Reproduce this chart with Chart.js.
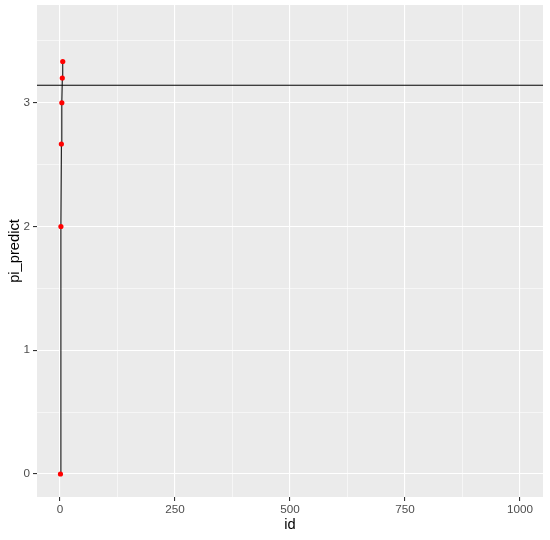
<!DOCTYPE html>
<html><head><meta charset="utf-8">
<script src="https://cdn.jsdelivr.net/npm/chart.js@4"></script>
<style>html,body{margin:0;padding:0;background:#fff}#wrap{width:550px;height:540px}</style>
</head><body><div id="wrap"><canvas id="c" width="550" height="540"></canvas></div>
<script>
const ids = [1, 2, 3, 4, 5, 6];
const piPredict = [0, 2, 2.6667, 3, 3.2, 3.3333];
const piValue = Math.PI;
const xLimits = [-50, 1050];
const yLimits = [-0.186, 3.79];
const xMajorTicks = [0, 250, 500, 750, 1000];
const yMajorTicks = [0, 1, 2, 3];

const pts = ids.map((id, i) => ({x: id, y: piPredict[i]}));
const isMajorX = v => xMajorTicks.includes(v);
const isMajorY = v => yMajorTicks.includes(Math.round(v * 1000) / 1000);

new Chart(document.getElementById('c'), {
  type: 'scatter',
  data: {
    datasets: [
      {data: pts, showLine: true, borderColor: '#000', borderWidth: 1, pointRadius: 0, order: 3},
      {data: pts, showLine: false, pointRadius: 2.6, pointBackgroundColor: '#FF0000', pointBorderColor: '#FF0000', pointBorderWidth: 0, order: 2},
      {data: [{x: xLimits[0], y: piValue}, {x: xLimits[1], y: piValue}], showLine: true, borderColor: '#000', borderWidth: 1, pointRadius: 0, order: 1}
    ]
  },
  options: {
    responsive: false, animation: false, devicePixelRatio: 1,
    layout: {padding: {top: 5, right: 7, left: 0, bottom: 0}},
    plugins: {legend: {display: false}, tooltip: {enabled: false}},
    scales: {
      x: {
        type: 'linear', min: xLimits[0], max: xLimits[1],
        afterFit: s => { s.height = 43; s.paddingLeft = 0; s.paddingRight = 0; },
        border: {display: false},
        ticks: {stepSize: 125, includeBounds: false, autoSkip: false, maxRotation: 0, padding: 2,
          color: '#4D4D4D', font: {family: 'Liberation Sans', size: 11.7},
          callback: v => isMajorX(v) ? String(v) : ''},
        grid: {color: '#FFFFFF', lineWidth: c => isMajorX(c.tick.value) ? 1.1 : 0.55,
          tickLength: 4, tickColor: c => isMajorX(c.tick.value) ? '#333333' : 'rgba(0,0,0,0)', tickWidth: 1.1},
        title: {display: true, text: 'id', color: '#000', font: {family: 'Liberation Sans', size: 14.7}, padding: {top: 0, bottom: 6}}
      },
      y: {
        type: 'linear', min: yLimits[0], max: yLimits[1],
        afterFit: s => { s.width = 37; s.paddingTop = 0; s.paddingBottom = 0; },
        border: {display: false},
        ticks: {stepSize: 0.5, includeBounds: false, autoSkip: false, padding: 3,
          color: '#4D4D4D', font: {family: 'Liberation Sans', size: 11.7},
          callback: v => isMajorY(v) ? String(Math.round(v)) : ''},
        grid: {color: '#FFFFFF', lineWidth: c => isMajorY(c.tick.value) ? 1.1 : 0.55,
          tickLength: 4, tickColor: c => isMajorY(c.tick.value) ? '#333333' : 'rgba(0,0,0,0)', tickWidth: 1.1},
        title: {display: true, text: 'pi_predict', color: '#000', font: {family: 'Liberation Sans', size: 14.7}, padding: {top: 6, bottom: 0}}
      }
    }
  },
  plugins: [{
    id: 'panelBg',
    beforeDraw(chart) {
      const a = chart.chartArea, ctx = chart.ctx;
      ctx.save(); ctx.fillStyle = '#EBEBEB';
      ctx.fillRect(a.left, a.top, a.right - a.left, a.bottom - a.top);
      ctx.restore();
    }
  }]
});
</script></body></html>
